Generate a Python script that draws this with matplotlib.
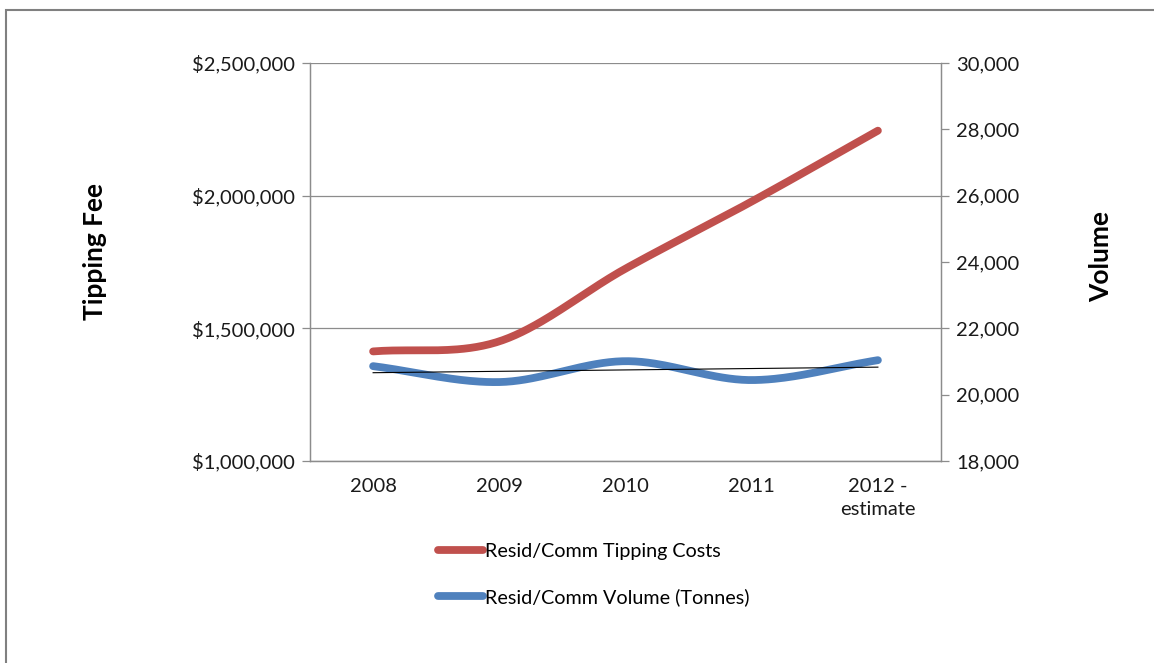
import numpy as np
import matplotlib
matplotlib.use("Agg")
from matplotlib import pyplot as plt
from matplotlib.ticker import FuncFormatter
from matplotlib.patches import Rectangle

years = ['2008', '2009', '2010', '2011', '2012 -\nestimate']
tipping_costs = [1413000, 1451000, 1725000, 1978000, 2245000]
volume = [20860, 20380, 21010, 20440, 21040]

red = '#C0504D'
blue = '#4F81BD'
grey = '#8C8C8C'

plt.rcParams['font.family'] = ['Lato', 'DejaVu Sans']


def smooth(xs, ys, n=40):
    # catmull-rom style smoothing, like the excel "smoothed line" option
    xs = np.asarray(xs, float)
    ys = np.asarray(ys, float)
    px = np.concatenate([[2 * xs[0] - xs[1]], xs, [2 * xs[-1] - xs[-2]]])
    py = np.concatenate([[2 * ys[0] - ys[1]], ys, [2 * ys[-1] - ys[-2]]])
    outx, outy = [], []
    t = np.linspace(0, 1, n)
    for i in range(1, len(px) - 2):
        for p, out in ((px, outx), (py, outy)):
            p0, p1, p2, p3 = p[i - 1], p[i], p[i + 1], p[i + 2]
            c1 = p1 + (p2 - p0) / 6
            c2 = p2 - (p3 - p1) / 6
            out.extend((1 - t) ** 3 * p1 + 3 * (1 - t) ** 2 * t * c1 + 3 * (1 - t) * t ** 2 * c2 + t ** 3 * p2)
    return np.array(outx), np.array(outy)


fig = plt.figure(figsize=(11.54, 6.63), dpi=100)
fig.patches.append(Rectangle((6 / 1154, -0.01), 1.2, 1 - 10 / 663 + 0.01, transform=fig.transFigure,
                             fill=False, edgecolor='#808080', linewidth=1.5))

ax = fig.add_axes([310 / 1154, 1 - 461 / 663, (941 - 310) / 1154, (461 - 63) / 663])
ax2 = ax.twinx()

x = np.arange(len(years))
sx, sy = smooth(x, tipping_costs)
line1, = ax.plot(sx, sy, color=red, lw=5.6, solid_capstyle='round', zorder=3)
vx, vy = smooth(x, volume)
line2, = ax2.plot(vx, vy, color=blue, lw=5.6, solid_capstyle='round', zorder=3)

# linear trendline of the volume series
coef = np.polyfit(x, volume, 1)
ax2.plot(x, np.polyval(coef, x), color='black', lw=0.8, zorder=4)

ax.set_xlim(-0.5, len(years) - 0.5)
ax.set_ylim(1000000, 2500000)
ax.set_yticks([1000000, 1500000, 2000000, 2500000])
ax.yaxis.set_major_formatter(FuncFormatter(lambda v, p: '${:,.0f}'.format(v)))
ax2.set_ylim(18000, 30000)
ax2.set_yticks(range(18000, 30001, 2000))
ax2.yaxis.set_major_formatter(FuncFormatter(lambda v, p: '{:,.0f}'.format(v)))
ax.set_xticks(x)
ax.set_xticklabels(years, linespacing=1.45)

ax.grid(axis='y', color=grey, lw=0.9)
ax.set_axisbelow(True)
for a in (ax, ax2):
    a.spines['top'].set_visible(False)
    for s in ('left', 'right', 'bottom'):
        a.spines[s].set_color(grey)
        a.spines[s].set_linewidth(0.9)
    a.tick_params(colors=grey, labelcolor='#1a1a1a', labelsize=14.5, length=6, width=0.9)
ax.tick_params(axis='x', length=0, pad=12)
ax.tick_params(axis='y', pad=5)
ax2.tick_params(axis='y', pad=5)

fig.text(95 / 1154, 1 - 251 / 663, 'Tipping Fee', rotation=90, ha='center', va='center',
         fontsize=19, fontweight='bold')
fig.text(1101 / 1154, 1 - 257 / 663, 'Volume', rotation=90, ha='center', va='center',
         fontsize=19, fontweight='bold')

fig.legend([line1, line2], ['Resid/Comm Tipping Costs', 'Resid/Comm Volume (Tonnes)'],
           loc='upper left', bbox_to_anchor=(420 / 1154, 1 - 525 / 663), frameon=False,
           fontsize=14.2, handlelength=2.3, handletextpad=0.1, labelspacing=1.45)

fig.savefig('out.png', dpi=100)
